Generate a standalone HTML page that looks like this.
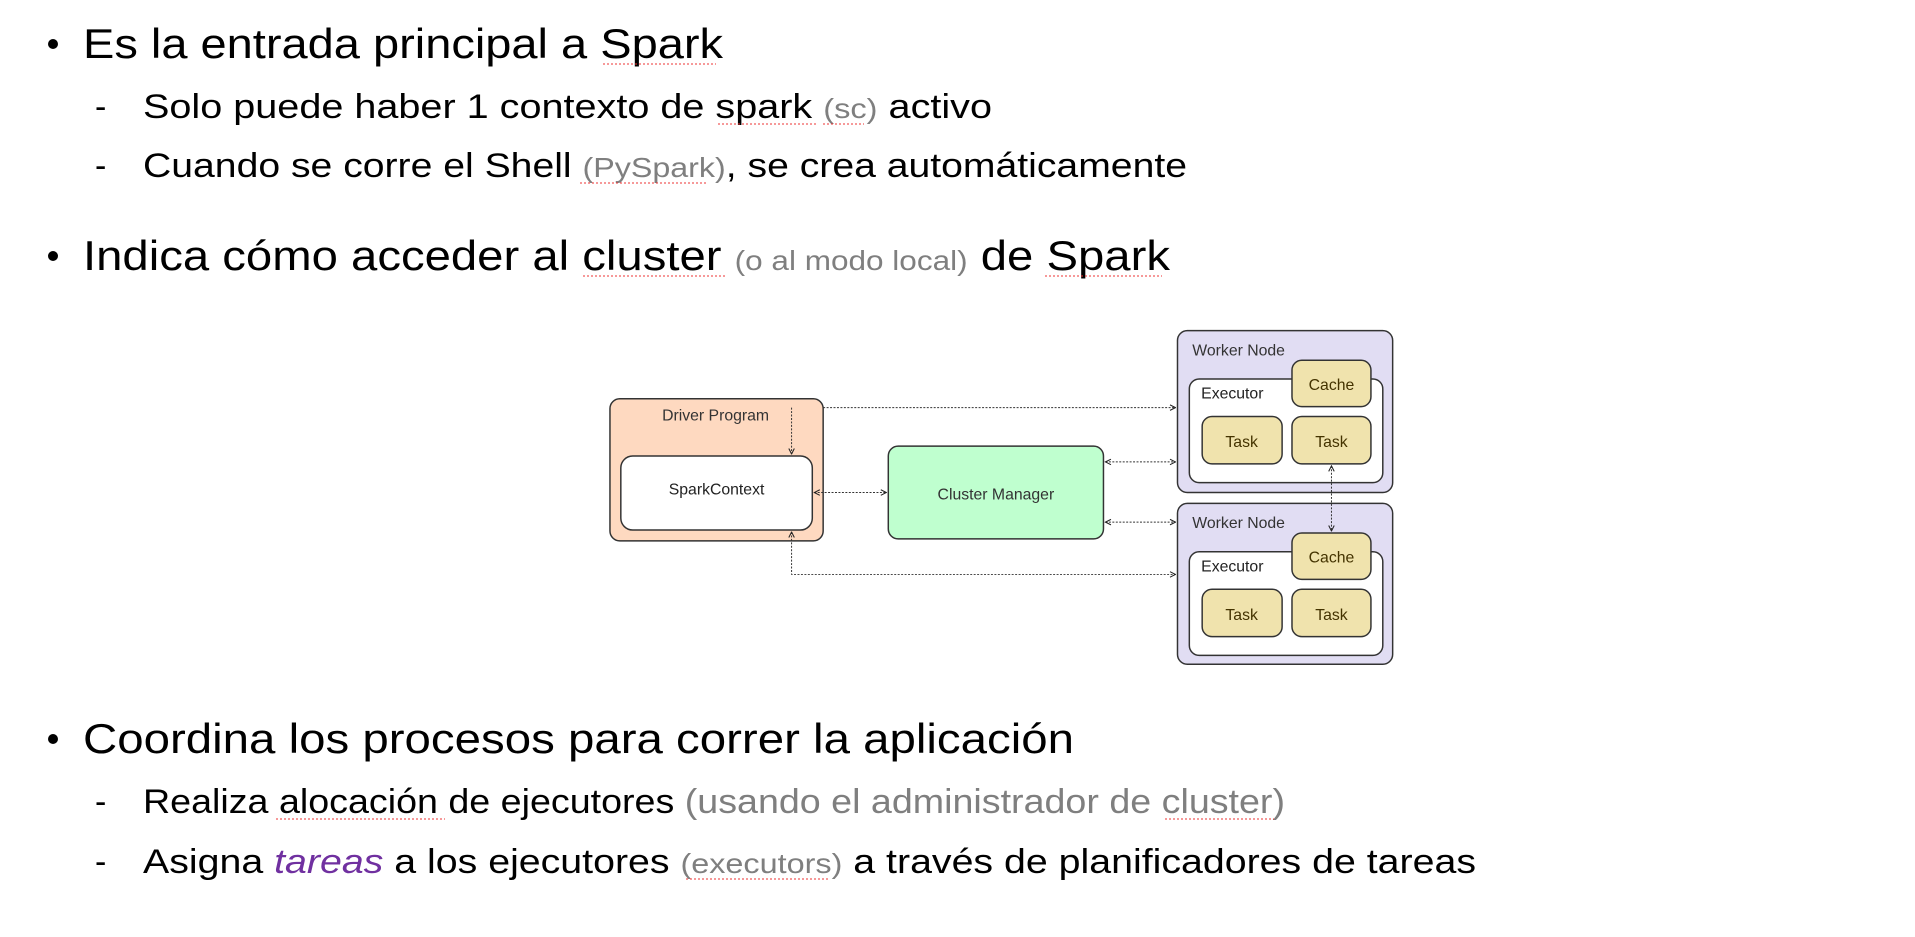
<!DOCTYPE html>
<html><head><meta charset="utf-8"><style>
html,body{margin:0;padding:0;background:#fff;width:1915px;height:937px;overflow:hidden}
svg{display:block}
text{font-family:"Liberation Sans",sans-serif}
</style></head><body>
<svg width="1915" height="937" viewBox="0 0 1915 937" xmlns="http://www.w3.org/2000/svg">
<defs>
<marker id="a" viewBox="0 0 10 10" refX="9" refY="5" markerWidth="7" markerHeight="7" orient="auto-start-reverse"><path d="M1,1 L9,5 L1,9" fill="none" stroke="#222" stroke-width="1.5"/></marker>
</defs>
<g fill="#000">
<circle cx="53" cy="44" r="5"/>
<text x="83" y="58" font-size="42" textLength="640" lengthAdjust="spacingAndGlyphs">Es la entrada principal a Spark</text>
<text x="95" y="118" font-size="34">-</text>
<text x="143" y="118" font-size="34" textLength="849" lengthAdjust="spacingAndGlyphs">Solo puede haber 1 contexto de spark <tspan fill="#7f7f7f" font-size="28">(sc)</tspan> activo</text>
<text x="95" y="177" font-size="34">-</text>
<text x="143" y="177" font-size="34" textLength="1044" lengthAdjust="spacingAndGlyphs">Cuando se corre el Shell <tspan fill="#7f7f7f" font-size="28">(PySpark)</tspan>, se crea automáticamente</text>
<circle cx="53" cy="256" r="5"/>
<text x="83" y="270" font-size="42" textLength="1087" lengthAdjust="spacingAndGlyphs">Indica cómo acceder al cluster <tspan fill="#7f7f7f" font-size="28">(o al modo local)</tspan> de Spark</text>
<circle cx="53" cy="739" r="5"/>
<text x="83" y="753" font-size="42" textLength="991" lengthAdjust="spacingAndGlyphs">Coordina los procesos para correr la aplicación</text>
<text x="95" y="813" font-size="34">-</text>
<text x="143" y="813" font-size="34" textLength="1142" lengthAdjust="spacingAndGlyphs">Realiza alocación de ejecutores <tspan fill="#7f7f7f">(usando el administrador de cluster)</tspan></text>
<text x="95" y="873" font-size="34">-</text>
<text x="143" y="873" font-size="34" textLength="1333" lengthAdjust="spacingAndGlyphs">Asigna <tspan fill="#7030a0" font-style="italic">tareas</tspan> a los ejecutores <tspan fill="#7f7f7f" font-size="28">(executors)</tspan> a través de planificadores de tareas</text>
</g>
<g stroke="#e33" stroke-width="1" fill="none" stroke-dasharray="2,2">
<line x1="603" y1="64" x2="716" y2="64"/><line x1="718" y1="124" x2="818" y2="124"/><line x1="823" y1="124" x2="864" y2="124"/>
<line x1="580" y1="183" x2="707" y2="183"/><line x1="583" y1="276" x2="725" y2="276"/><line x1="1045" y1="276" x2="1162" y2="276"/>
<line x1="276" y1="819" x2="445" y2="819"/><line x1="1165" y1="819" x2="1274" y2="819"/><line x1="686" y1="879" x2="830" y2="879"/>
</g>
<g transform="scale(0.987)">
<g stroke="#333" stroke-width="1.5">
<rect x="618" y="404" width="216" height="144" rx="10" fill="#fed9c0"/>
<rect x="629" y="462" width="194" height="75" rx="12" fill="#fff"/>
<rect x="900" y="452" width="218" height="94" rx="10" fill="#bfffcf"/>
<rect x="1193" y="335" width="218" height="164" rx="10" fill="#e1ddf3"/>
<rect x="1205" y="384" width="196" height="105" rx="10" fill="#fff"/>
<rect x="1309" y="365" width="80" height="47" rx="10" fill="#f0e3ad"/>
<rect x="1218" y="422" width="81" height="48" rx="10" fill="#f0e3ad"/>
<rect x="1309" y="422" width="80" height="48" rx="10" fill="#f0e3ad"/>
<rect x="1193" y="510" width="218" height="163" rx="10" fill="#e1ddf3"/>
<rect x="1205" y="559" width="196" height="105" rx="10" fill="#fff"/>
<rect x="1309" y="540" width="80" height="47" rx="10" fill="#f0e3ad"/>
<rect x="1218" y="597" width="81" height="48" rx="10" fill="#f0e3ad"/>
<rect x="1309" y="597" width="80" height="48" rx="10" fill="#f0e3ad"/>
</g>
<g stroke="#333" stroke-width="1" fill="none" stroke-dasharray="2,1.5">
<path d="M834,413 H1191" marker-end="url(#a)"/>
<path d="M802,413 V460" marker-end="url(#a)"/>
<path d="M825,499 H898" marker-start="url(#a)" marker-end="url(#a)"/>
<path d="M1120,468 H1191" marker-start="url(#a)" marker-end="url(#a)"/>
<path d="M1120,529 H1191" marker-start="url(#a)" marker-end="url(#a)"/>
<path d="M802,539 V582 H1191" marker-start="url(#a)" marker-end="url(#a)"/>
<path d="M1349,472 V538" marker-start="url(#a)" marker-end="url(#a)"/>
</g>
<g font-size="16" fill="#222">
<text x="725" y="426" text-anchor="middle" fill="#333">Driver Program</text>
<text x="726" y="501" text-anchor="middle">SparkContext</text>
<text x="1009" y="506" text-anchor="middle" fill="#333">Cluster Manager</text>
<text x="1208" y="360" fill="#333">Worker Node</text>
<text x="1217" y="404">Executor</text>
<text x="1349" y="395" text-anchor="middle" fill="#443300">Cache</text>
<text x="1258" y="453" text-anchor="middle" fill="#443300">Task</text>
<text x="1349" y="453" text-anchor="middle" fill="#443300">Task</text>
<text x="1208" y="535" fill="#333">Worker Node</text>
<text x="1217" y="579">Executor</text>
<text x="1349" y="570" text-anchor="middle" fill="#443300">Cache</text>
<text x="1258" y="628" text-anchor="middle" fill="#443300">Task</text>
<text x="1349" y="628" text-anchor="middle" fill="#443300">Task</text>
</g>
</g>
</svg>
</body></html>
